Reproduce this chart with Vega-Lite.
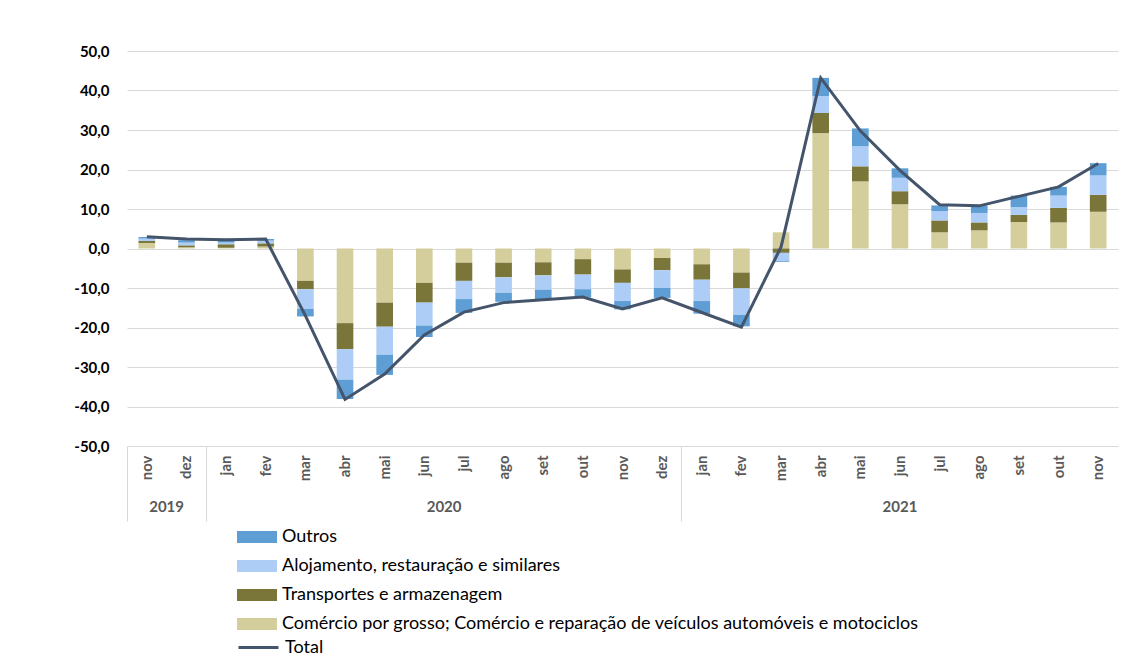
{
  "$schema": "https://vega.github.io/schema/vega-lite/v6.json",
  "width": 991,
  "height": 395,
  "autosize": {"type": "none"},
  "padding": {"left": 127, "top": 51, "right": 13, "bottom": 211},
  "background": "white",
  "config": {"view": {"stroke": null}, "font": "Lato"},
  "data": {"values": [
    {"periodo": "2019-11", "comercio": 1.4, "transportes": 0.5, "alojamento": 0.6, "outros": 0.4, "total": 3.0},
    {"periodo": "2019-12", "comercio": 0.3, "transportes": 0.5, "alojamento": 0.7, "outros": 0.6, "total": 2.4},
    {"periodo": "2020-01", "comercio": 0.2, "transportes": 0.9, "alojamento": 0.4, "outros": 0.5, "total": 2.2},
    {"periodo": "2020-02", "comercio": 0.5, "transportes": 0.8, "alojamento": 0.7, "outros": 0.4, "total": 2.4},
    {"periodo": "2020-03", "comercio": -8.2, "transportes": -2.1, "alojamento": -5.0, "outros": -1.9, "total": -17.0},
    {"periodo": "2020-04", "comercio": -18.9, "transportes": -6.6, "alojamento": -7.7, "outros": -4.9, "total": -38.2},
    {"periodo": "2020-05", "comercio": -13.7, "transportes": -6.1, "alojamento": -7.1, "outros": -5.1, "total": -31.8},
    {"periodo": "2020-06", "comercio": -8.7, "transportes": -5.0, "alojamento": -5.8, "outros": -2.9, "total": -21.9},
    {"periodo": "2020-07", "comercio": -3.6, "transportes": -4.6, "alojamento": -4.6, "outros": -3.5, "total": -16.1},
    {"periodo": "2020-08", "comercio": -3.6, "transportes": -3.7, "alojamento": -3.9, "outros": -2.3, "total": -13.7},
    {"periodo": "2020-09", "comercio": -3.5, "transportes": -3.3, "alojamento": -3.6, "outros": -2.4, "total": -13.0},
    {"periodo": "2020-10", "comercio": -2.7, "transportes": -3.9, "alojamento": -3.7, "outros": -2.1, "total": -12.3},
    {"periodo": "2020-11", "comercio": -5.3, "transportes": -3.4, "alojamento": -4.6, "outros": -2.1, "total": -15.3},
    {"periodo": "2020-12", "comercio": -2.4, "transportes": -3.1, "alojamento": -4.5, "outros": -2.5, "total": -12.5},
    {"periodo": "2021-01", "comercio": -4.0, "transportes": -3.9, "alojamento": -5.4, "outros": -3.2, "total": -16.2},
    {"periodo": "2021-02", "comercio": -6.1, "transportes": -4.0, "alojamento": -6.7, "outros": -2.9, "total": -19.9},
    {"periodo": "2021-03", "comercio": 4.1, "transportes": -1.1, "alojamento": -2.1, "outros": -0.2, "total": 0.4},
    {"periodo": "2021-04", "comercio": 29.2, "transportes": 5.1, "alojamento": 4.3, "outros": 4.6, "total": 43.2},
    {"periodo": "2021-05", "comercio": 17.0, "transportes": 3.8, "alojamento": 5.1, "outros": 4.5, "total": 29.8},
    {"periodo": "2021-06", "comercio": 11.2, "transportes": 3.3, "alojamento": 3.4, "outros": 2.4, "total": 19.8},
    {"periodo": "2021-07", "comercio": 4.1, "transportes": 3.0, "alojamento": 2.4, "outros": 1.4, "total": 11.1},
    {"periodo": "2021-08", "comercio": 4.6, "transportes": 2.0, "alojamento": 2.4, "outros": 1.9, "total": 10.8},
    {"periodo": "2021-09", "comercio": 6.7, "transportes": 1.8, "alojamento": 2.0, "outros": 2.9, "total": 13.2},
    {"periodo": "2021-10", "comercio": 6.6, "transportes": 3.7, "alojamento": 3.1, "outros": 2.2, "total": 15.6},
    {"periodo": "2021-11", "comercio": 9.3, "transportes": 4.3, "alojamento": 4.9, "outros": 3.1, "total": 21.5}
  ]},
  "layer": [
    {
      "transform": [
        {"fold": ["comercio", "transportes", "alojamento", "outros"], "as": ["serie", "valor"]},
        {"calculate": "indexof(['comercio','transportes','alojamento','outros'], datum.serie)", "as": "ordem"}
      ],
      "mark": {"type": "bar", "width": {"band": 0.42}},
      "encoding": {
        "x": {
          "field": "periodo", "type": "ordinal",
          "scale": {"paddingInner": 0, "paddingOuter": 0},
          "axis": {
            "orient": "bottom", "title": null, "domain": false, "grid": false,
            "bandPosition": 0, "ticks": true, "tickSize": 75, "tickColor": "#D9D9D9", "tickWidth": 1,
            "tickOpacity": {"condition": {"test": "datum.value == '2019-11' || datum.value == '2020-01' || datum.value == '2021-01'", "value": 1}, "value": 0},
            "labelAngle": 270, "labelPadding": -66, "labelFont": "Lato", "labelFontSize": 15,
            "labelFontWeight": "bold", "labelColor": "#595959", "labelOverlap": false,
            "labelExpr": "['jan','fev','mar','abr','mai','jun','jul','ago','set','out','nov','dez'][toNumber(slice(datum.value, 5)) - 1]"
          }
        },
        "y": {
          "field": "valor", "type": "quantitative", "stack": "zero",
          "scale": {"domain": [-50, 50], "nice": false},
          "axis": {
            "title": null, "domain": false, "ticks": false, "labelOverlap": false, "tickCount": 11,
            "values": [-50, -40, -30, -20, -10, 0, 10, 20, 30, 40, 50],
            "labelExpr": "replace(replace(format(datum.value, '.1f'), '.', ','), '\u2212', '-')",
            "labelFont": "Lato", "labelFontSize": 15, "labelFontWeight": "bold", "labelColor": "#000000",
            "labelPadding": 18, "gridColor": "#D9D9D9", "gridWidth": 1
          }
        },
        "color": {
          "field": "serie", "type": "nominal",
          "scale": {"domain": ["outros", "alojamento", "transportes", "comercio"], "range": ["#5F9ED5", "#ADCDF6", "#7A7538", "#D3CE9B"]},
          "legend": {
            "title": null, "orient": "none", "legendX": 110, "legendY": 466, "direction": "vertical",
            "symbolType": "M-1,-0.3H1V0.3H-1Z", "symbolSize": 1600, "symbolStrokeWidth": 0,
            "labelFont": "Lato", "labelFontSize": 18, "labelColor": "#000000", "labelOffset": 5,
            "rowPadding": -11, "padding": 0, "labelLimit": 900,
            "labelExpr": "datum.value == 'outros' ? 'Outros' : datum.value == 'alojamento' ? 'Alojamento, restauração e similares' : datum.value == 'transportes' ? 'Transportes e armazenagem' : 'Comércio por grosso; Comércio e reparação de veículos automóveis e motociclos'"
          }
        },
        "order": {"field": "ordem", "sort": "ascending"}
      }
    },
    {
      "mark": {"type": "line", "strokeWidth": 3},
      "encoding": {
        "x": {
          "field": "periodo", "type": "ordinal",
          "axis": {
            "orient": "bottom", "title": null, "domain": false, "ticks": false, "grid": false,
            "labelAngle": 0, "labelPadding": 53, "labelOverlap": false,
            "labelExpr": "datum.value == '2019-11' ? '2019' : datum.value == '2020-06' ? '2020' : datum.value == '2021-06' ? '2021' : ''",
            "labelOffset": {"condition": {"test": "datum.value == '2021-06'", "value": 0}, "value": 19.8},
            "labelFont": "Lato", "labelFontSize": 15, "labelFontWeight": "bold", "labelColor": "#595959"
          }
        },
        "y": {
          "field": "total", "type": "quantitative",
          "scale": {"domain": [-50, 50], "nice": false},
          "axis": {
            "title": null, "domain": false, "ticks": false, "labelOverlap": false, "tickCount": 11,
            "values": [-50, -40, -30, -20, -10, 0, 10, 20, 30, 40, 50],
            "labelExpr": "replace(replace(format(datum.value, '.1f'), '.', ','), '\u2212', '-')",
            "labelFont": "Lato", "labelFontSize": 15, "labelFontWeight": "bold", "labelColor": "#000000",
            "labelPadding": 18, "gridColor": "#D9D9D9", "gridWidth": 1
          }
        },
        "stroke": {
          "datum": "Total",
          "scale": {"range": ["#44546A"]},
          "legend": {
            "title": null, "orient": "none", "legendX": 110, "legendY": 575,
            "symbolType": "stroke", "symbolSize": 1600, "symbolStrokeWidth": 3,
            "labelFont": "Lato", "labelFontSize": 18, "labelColor": "#000000", "labelOffset": 5, "padding": 0
          }
        }
      }
    }
  ],
  "resolve": {"axis": {"x": "independent"}}
}
